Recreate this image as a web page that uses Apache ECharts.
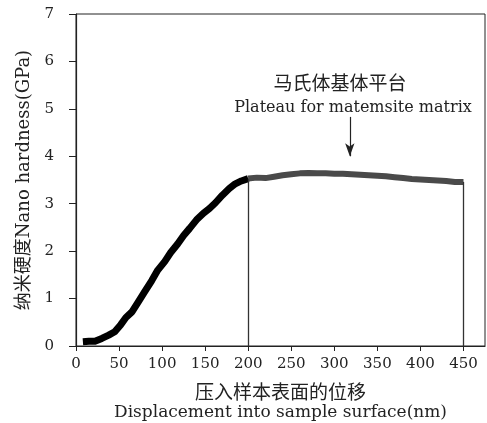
<!DOCTYPE html>
<html>
<head>
<meta charset="utf-8">
<script src="https://cdn.jsdelivr.net/npm/echarts@6/dist/echarts.min.js"></script>
<style>
html,body{margin:0;padding:0;background:#fff;}
#chart{width:487px;height:423px;}
</style>
</head>
<body>
<div id="chart"></div>
<script>
// Loading segment (black), displacement nm vs hardness GPa
var loadingX = [8, 15, 22, 30, 38, 45, 52, 58, 65, 72, 80, 88, 95, 103, 110, 118, 125, 132, 140, 148, 155, 162, 170, 178, 185, 192, 200];
var loadingY = [0.09, 0.10, 0.10, 0.16, 0.23, 0.30, 0.45, 0.60, 0.72, 0.92, 1.15, 1.38, 1.60, 1.78, 1.97, 2.15, 2.33, 2.48, 2.66, 2.80, 2.90, 3.02, 3.18, 3.32, 3.42, 3.48, 3.53];
// Plateau segment (gray)
var plateauX = [200, 210, 220, 230, 240, 250, 260, 270, 280, 290, 300, 310, 320, 330, 340, 350, 360, 370, 380, 390, 400, 410, 420, 430, 440, 450];
var plateauY = [3.53, 3.55, 3.54, 3.57, 3.60, 3.62, 3.64, 3.65, 3.64, 3.64, 3.63, 3.63, 3.62, 3.61, 3.60, 3.59, 3.58, 3.56, 3.54, 3.52, 3.51, 3.50, 3.49, 3.48, 3.46, 3.46];
// Boundary markers and arrow
var boundaryX = [200, 450];
var boundaryY = [3.53, 3.46];
var arrowX = 318;
var arrowFromY = 4.83;
var arrowToY = 4.0;
var xTickLabels = ['0', '50', '100', '150', '200', '250', '300', '350', '400', '450'];
var yTickLabels = ['0', '1', '2', '3', '4', '5', '6', '7'];

var xTitleCn = '压入样本表面的位移';
var xTitleEn = 'Displacement into sample surface(nm)';
var yTitle = '纳米硬度Nano hardness(GPa)';
var noteCn = '马氏体基体平台';
var noteEn = 'Plateau for matemsite matrix';

var FONT = "'DejaVu Serif', 'Noto Sans CJK SC', serif";

function zip(a, b) { return a.map(function (v, i) { return [v, b[i]]; }); }

var chart = echarts.init(document.getElementById('chart'), null, {renderer: 'canvas'});
var option = {
  animation: false,
  backgroundColor: '#fff',
  grid: {left: 76, right: 2, top: 14, bottom: 77, show: true, borderColor: '#222', borderWidth: 1, containLabel: false, outerBoundsMode: 'none'},
  xAxis: {
    type: 'value', min: 0, max: 475, interval: 50,
    axisLine: {show: true, onZero: false, lineStyle: {color: '#222', width: 1.2}},
    axisTick: {show: true, length: 5, inside: false, lineStyle: {color: '#222'}},
    splitLine: {show: false},
    axisLabel: {
      margin: 11, color: '#222', fontFamily: FONT, fontSize: 15, showMaxLabel: false,
      formatter: function (v) { var s = String(v); return xTickLabels.indexOf(s) >= 0 ? s : ''; }
    },
    name: '{a|' + xTitleCn + '}\n{b|' + xTitleEn + '}',
    nameLocation: 'middle', nameGap: 38,
    nameTextStyle: {
      rich: {
        a: {fontFamily: FONT, fontSize: 19, color: '#222', lineHeight: 20},
        b: {fontFamily: FONT, fontSize: 17, color: '#222', lineHeight: 18}
      }
    }
  },
  yAxis: {
    type: 'value', min: 0, max: 7, interval: 1,
    axisLine: {show: true, onZero: false, lineStyle: {color: '#222', width: 1.2}},
    axisTick: {show: true, length: 7, inside: false, lineStyle: {color: '#222'}},
    splitLine: {show: false},
    axisLabel: {
      margin: 22, color: '#222', fontFamily: FONT, fontSize: 15,
      formatter: function (v) { var s = String(v); return yTickLabels.indexOf(s) >= 0 ? s : ''; }
    },
    name: yTitle, nameLocation: 'middle', nameGap: 42, nameRotate: 90,
    nameTextStyle: {fontFamily: FONT, fontSize: 18, color: '#222'}
  },
  series: [
    {
      type: 'line', data: zip(loadingX, loadingY), symbol: 'none', smooth: false,
      lineStyle: {color: '#000', width: 7, cap: 'butt', join: 'round'}, z: 3
    },
    {
      type: 'line', data: zip(plateauX, plateauY), symbol: 'none',
      lineStyle: {color: '#4a4a4a', width: 6, cap: 'butt', join: 'round'}, z: 2,
      markLine: {
        silent: true, animation: false,
        label: {show: false},
        data: [
          [{coord: [boundaryX[0], 0], symbol: 'none', lineStyle: {color: '#333', width: 1.3, type: 'solid'}},
           {coord: [boundaryX[0], boundaryY[0]], symbol: 'none'}],
          [{coord: [boundaryX[1], 0], symbol: 'none', lineStyle: {color: '#333', width: 1.3, type: 'solid'}},
           {coord: [boundaryX[1], boundaryY[1]], symbol: 'none'}],
          [{coord: [arrowX, arrowFromY], symbol: 'none', lineStyle: {color: '#222', width: 1.2, type: 'solid'}},
           {coord: [arrowX, arrowToY], symbol: 'arrow', symbolSize: [7, 13]}]
        ]
      }
    }
  ],
  graphic: [
    {type: 'text', x: 340, y: 85, style: {text: noteCn, font: "19px " + FONT, fill: '#222', align: 'center', verticalAlign: 'middle', textAlign: 'center', textVerticalAlign: 'middle'}},
    {type: 'text', x: 353, y: 108, style: {text: noteEn, font: "16px " + FONT, fill: '#222', align: 'center', verticalAlign: 'middle', textAlign: 'center', textVerticalAlign: 'middle'}}
  ]
};
chart.setOption(option);
</script>
</body>
</html>
